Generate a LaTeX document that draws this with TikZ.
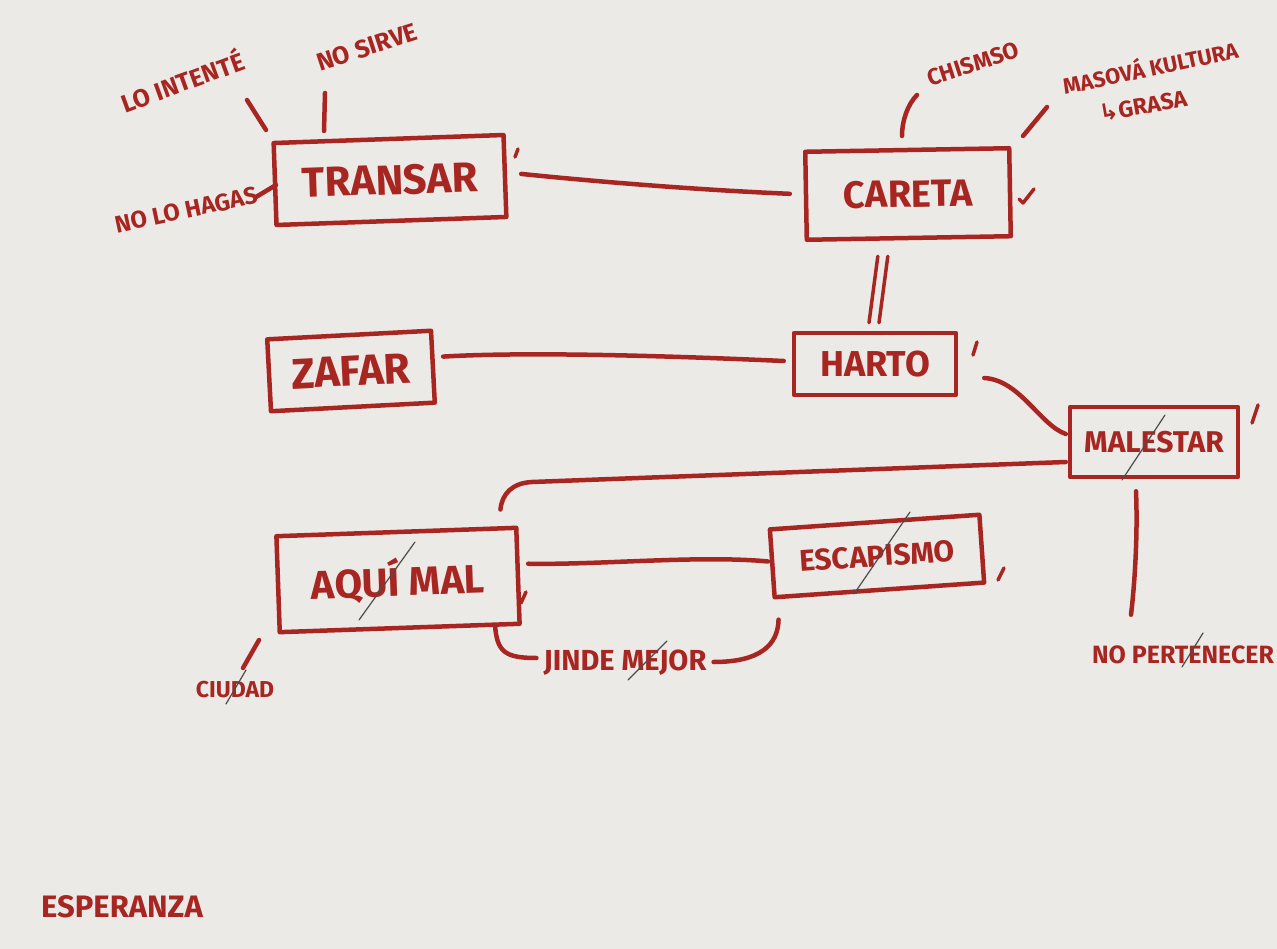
\documentclass[tikz,border=0pt]{standalone}
\usepackage{fontspec}
\setmainfont{Fira Sans}
\newfontfamily\symfont{DejaVu Sans}
\usetikzlibrary{calc}
\definecolor{marker}{RGB}{168,38,34}
\definecolor{paper}{RGB}{236,234,230}
\newcommand\fsz[1]{\bfseries\fontsize{#1}{#1}\selectfont}
\begin{document}
\begin{tikzpicture}[x=1pt,y=-1pt,
  ink/.style={draw=marker, line width=4.5pt, line cap=round, line join=round},
  box/.style={ink, rectangle, inner sep=0pt, text=marker, font=\fsz{36}},
  lbl/.style={text=marker, inner sep=1pt, font=\fsz{24}},
  conn/.style={ink},
  markstroke/.style={ink, line width=3.5pt},
  slash/.style={draw=black!70, line width=1.2pt, line cap=round}]
\fill[paper] (0,0) rectangle (1277,949);
\useasboundingbox (0,0) rectangle (1277,949);

% boxes
\node[box, minimum width=230pt, minimum height=82pt, rotate=2, font=\fsz{42}] (transar) at (390,180) {TRANSAR};
\node[box, minimum width=204pt, minimum height=88pt, rotate=1, font=\fsz{38}] (careta) at (908,194) {CARETA};
\node[box, minimum width=164pt, minimum height=72pt, rotate=3, font=\fsz{43}] (zafar) at (351,371) {ZAFAR};
\node[box, minimum width=162pt, minimum height=62pt] (harto) at (875,364) {HARTO};
\node[box, minimum width=168pt, minimum height=70pt, font=\fsz{30}] (malestar) at (1154,442) {MALESTAR};
\node[box, minimum width=240pt, minimum height=96pt, rotate=2, font=\fsz{40}] (aqui) at (398,580) {AQUÍ MAL};
\node[box, minimum width=210pt, minimum height=68pt, rotate=4, font=\fsz{30}] (escap) at (877,556) {ESCAPISMO};

% labels
\node[lbl, rotate=20, font=\fsz{25}] (intente) at (182,80) {LO INTENTÉ};
\node[lbl, rotate=18, font=\fsz{25}] (nosirve) at (367,47) {NO SIRVE};
\node[lbl, rotate=12, font=\fsz{24}] (hagas) at (186,210) {NO LO HAGAS};
\node[lbl, rotate=18, font=\fsz{23}] (chismso) at (973,64) {CHISMSO};
\node[lbl, rotate=12, font=\fsz{22}] (masova) at (1150,66) {MASOVÁ KULTURA};
\node[lbl, rotate=10, font=\fsz{23}] (grasa) at (1143,106) {{\symfont ↳}GRASA};
\node[lbl, font=\fsz{23}] (ciudad) at (235,690) {CIUDAD};
\node[lbl, font=\fsz{29}] (jinde) at (625,663) {JINDE MEJOR};
\node[lbl, font=\fsz{25}] (nopert) at (1183,655) {NO PERTENECER};
\node[lbl, font=\fsz{31}] (esperanza) at (122,907) {ESPERANZA};

% short label strokes
\coordinate (i1) at (247,100); \coordinate (i2) at (266,130);
\draw[conn] (i1) -- (i2);
\coordinate (s1) at (325,93); \coordinate (s2) at (324,131);
\draw[conn] (s1) -- (s2);
\coordinate (h1) at (256,197); \coordinate (h2) at (276,185);
\draw[conn] (h1) -- (h2);
\coordinate (c1) at (902,136); \coordinate (c2) at (917,95);
\draw[conn] (c1) .. controls (902,120) and (908,104) .. (c2);
\coordinate (m1) at (1023,136); \coordinate (m2) at (1047,107);
\draw[conn] (m1) -- (m2);
\coordinate (u1) at (259,640); \coordinate (u2) at (243,668);
\draw[conn] (u1) -- (u2);

% connectors between boxes
\draw[conn] ($(transar.east)+(14,-2)$) .. controls (600,182) and (700,190) .. ($(careta.west)+(-14,-2)$);
\draw[conn, line width=3.5pt] ($(careta.south)+(-31,16)$) -- ($(harto.north)+(-6,-8)$);
\draw[conn, line width=3.5pt] ($(careta.south)+(-21,16)$) -- ($(harto.north)+(4,-8)$);
\draw[conn] ($(zafar.east)+(8,-10)$) .. controls (520,352) and (650,355) .. ($(harto.west)+(-8,-3)$);
\draw[conn] ($(harto.east)+(26,14)$) .. controls (1020,380) and (1040,425) .. ($(malestar.west)+(-2,-8)$);
\draw[conn] ($(malestar.west)+(-2,20)$) -- (532,482) .. controls (512,483) and (502,494) .. ($(aqui.north east)+(-18,-16)$);
\draw[conn] ($(aqui.east)+(8,-12)$) .. controls (600,565) and (700,555) .. ($(escap.west)+(-2,-2)$);
\draw[conn] ($(malestar.south)+(-18,12)$) .. controls (1138,540) and (1134,590) .. ($(nopert.north)+(-52,-30)$);
\draw[conn] (495,625) .. controls (497,652) and (505,658) .. ($(jinde.west)+(-6,-5)$);
\draw[conn] ($(jinde.east)+(6,-1)$) .. controls (760,662) and (778,645) .. ($(escap.south west)+(6,20)$);

% small tick marks
\draw[markstroke] (518,149) -- (515,157);
\draw[markstroke] (1019,199) -- (1023,203) -- (1034,189);
\draw[markstroke] (977,342) -- (973,355);
\draw[markstroke] (1258,405) -- (1252,423);
\draw[markstroke] (526,592) -- (521,603);
\draw[markstroke] (1004,568) -- (998,580);

% pencil strike-throughs
\draw[slash] (415,542) -- (359,620);
\draw[slash] (910,512) -- (854,594);
\draw[slash] (1165,415) -- (1122,480);
\draw[slash] (1203,633) -- (1182,667);
\draw[slash] (667,641) -- (628,680);
\draw[slash] (246,670) -- (226,704);
\end{tikzpicture}
\end{document}
